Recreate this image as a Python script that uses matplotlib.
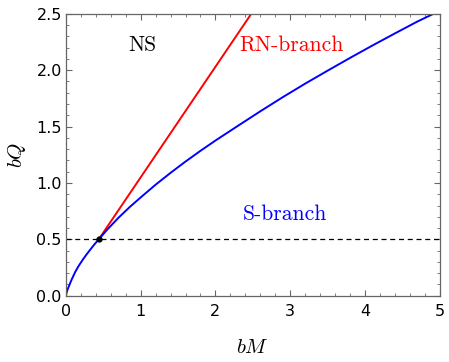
import matplotlib
matplotlib.use("Agg")
import matplotlib.pyplot as plt
from matplotlib.ticker import MultipleLocator

# S-branch (blue curve)
s_M = [0.0, 0.005, 0.015, 0.045, 0.08, 0.125, 0.17, 0.223, 0.27, 0.326, 0.38, 0.438,
       0.55, 0.7, 0.85, 1.0, 1.2, 1.4, 1.6, 1.8, 2.0, 2.3, 2.6, 2.9, 3.2, 3.5,
       3.8, 4.1, 4.4, 4.7, 4.92]
s_Q = [0.0, 0.02, 0.045, 0.095, 0.15, 0.213, 0.265, 0.318, 0.362, 0.41, 0.455, 0.5,
       0.585, 0.69, 0.785, 0.872, 0.985, 1.09, 1.19, 1.285, 1.376, 1.506, 1.635, 1.76, 1.88, 1.995,
       2.108, 2.218, 2.325, 2.43, 2.5]

# RN-branch (red line)
rn_M = [0.438, 2.48]
rn_Q = [0.5, 2.5]

# critical point
crit_M = [0.438]
crit_Q = [0.5]
hline_Q = 0.5

xlim = (0, 5)
ylim = (0, 2.5)
xticks = [0, 1, 2, 3, 4, 5]
yticks = [0.0, 0.5, 1.0, 1.5, 2.0, 2.5]
ytick_labels = ["0.0", "0.5", "1.0", "1.5", "2.0", "2.5"]

plt.rcParams['mathtext.fontset'] = 'cm'

fig = plt.figure(figsize=(4.49, 3.62), dpi=100)
ax = fig.add_axes([0.147, 0.183, 0.832, 0.779])

ax.axhline(hline_Q, color='black', lw=0.9, ls=(0, (4, 3)))
ax.plot(rn_M, rn_Q, color='#ff0000', lw=1.4)
ax.plot(s_M, s_Q, color='#0000ff', lw=1.4)
ax.plot(crit_M, crit_Q, 'o', color='black', ms=3.5)

ax.set_xlim(*xlim)
ax.set_ylim(*ylim)
ax.set_xticks(xticks)
ax.set_yticks(yticks)
ax.set_yticklabels(ytick_labels)
ax.xaxis.set_minor_locator(MultipleLocator(0.2))
ax.yaxis.set_minor_locator(MultipleLocator(0.1))
ax.tick_params(which='both', direction='in', top=True, right=True, colors='#666666',
               labelcolor='black', labelsize=11.5)
ax.tick_params(which='major', length=4.5, width=0.8)
ax.tick_params(axis='x', which='major', pad=6)
ax.tick_params(axis='y', which='major', pad=3)
ax.tick_params(which='minor', length=2.5, width=0.6)
for s in ax.spines.values():
    s.set_color('#666666')
    s.set_linewidth(0.9)

ax.set_xlabel(r'$bM$', fontsize=15, labelpad=13)
ax.set_ylabel(r'$bQ$', fontsize=15, labelpad=6)

ax.text(1.02, 2.22, 'NS', family='cmr10', fontsize=15.5, ha='center', va='center', color='black')
ax.text(3.02, 2.22, 'RN-branch', family='cmr10', fontsize=15.5, ha='center', va='center', color='#ff0000')
ax.text(2.93, 0.72, 'S-branch', family='cmr10', fontsize=15.5, ha='center', va='center', color='#0000ff')

fig.savefig('out.png', dpi=100)
